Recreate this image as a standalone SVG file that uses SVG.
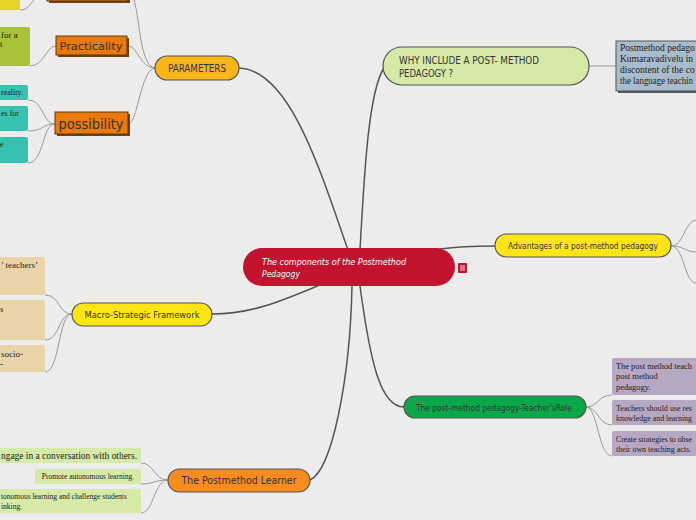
<svg xmlns="http://www.w3.org/2000/svg" width="696" height="520" viewBox="0 0 696 520">
<style>
.bg{fill:#ececec}
.c{fill:none;stroke:#555;stroke-width:1.5}
.s{fill:none;stroke:#9a9a9a;stroke-width:1}
.pill{stroke:#555;stroke-width:1.2}
.hand{font-family:"DejaVu Sans Condensed","DejaVu Sans",sans-serif;fill:#333}
.ser{font-family:"Liberation Serif",serif;fill:#222}
.shadow{fill:#6b4210}
.obox{fill:#e8790a;stroke:#5a3a10;stroke-width:1}
</style>
<rect class="bg" x="0" y="0" width="696" height="520"/>
<g id="connectors">
<path class="c" d="M239,68 C290,70 320,170 348,250"/>
<path class="c" d="M384,68 C368,92 364,180 360,250"/>
<path class="c" d="M440,249 C462,246 480,246 495,246"/>
<path class="c" d="M360,286 C370,360 380,407 404,407"/>
<path class="c" d="M352,286 C350,380 332,470 310,480"/>
<path class="c" d="M322,284 C280,302 250,314 212,314"/>
<path class="s" d="M155,68 C140,66 140,20 134,0"/>
<path class="s" d="M155,68 C140,68 138,46 128,46"/>
<path class="s" d="M155,68 C140,70 138,124 128,124"/>
<path class="s" d="M20,10 C28,10 30,4 34,0"/>
<path class="s" d="M56,46 C46,46 44,66 30,66"/>
<path class="s" d="M55,124 C42,124 44,100 28,100"/>
<path class="s" d="M55,124 C42,124 44,131 28,131"/>
<path class="s" d="M55,124 C42,124 44,163 28,163"/>
<path class="s" d="M589,66 L616,66"/>
<path class="s" d="M671,246 C684,246 684,222 696,220"/>
<path class="s" d="M671,246 C684,246 686,252 696,252"/>
<path class="s" d="M671,246 C684,246 684,282 696,283"/>
<path class="s" d="M586,407 C598,407 598,395 612,395"/>
<path class="s" d="M586,407 C598,407 598,425 612,425"/>
<path class="s" d="M586,407 C598,407 598,456 612,456"/>
<path class="s" d="M72,314 C58,314 60,295 45,295"/>
<path class="s" d="M72,314 C58,314 60,340 45,340"/>
<path class="s" d="M72,314 C58,314 60,372 45,372"/>
<path class="s" d="M168,480 C154,480 154,463 141,463"/>
<path class="s" d="M168,480 C154,480 154,484 141,484"/>
<path class="s" d="M168,480 C154,480 154,513 141,513"/>
</g>
<g id="top-cut">
<rect class="shadow" x="49" y="-10" width="81" height="13"/>
<rect class="obox" x="47" y="-12" width="80" height="13"/>
<rect x="-4" y="-10" width="24" height="20" rx="2" fill="#e6d42c"/>
</g>
<g id="parameters">
<rect class="pill" x="155" y="56" width="84" height="24" rx="12" fill="#fbb61b"/>
<text class="hand" x="197" y="72" font-size="10" text-anchor="middle" textLength="58" lengthAdjust="spacingAndGlyphs">PARAMETERS</text>
</g>
<g id="practicality">
<rect class="shadow" x="58" y="38" width="71" height="19"/>
<rect class="obox" x="56" y="36" width="71" height="19"/>
<text class="hand" x="91" y="50" font-size="11" text-anchor="middle" fill="#222" textLength="63" lengthAdjust="spacingAndGlyphs">Practicality</text>
</g>
<g id="practicality-note">
<rect x="-4" y="27" width="34" height="39" rx="2" fill="#a8c23a"/>
<text class="ser" x="1" y="38" font-size="9">for a</text>
<text class="ser" x="0" y="47" font-size="9">t</text>
</g>
<g id="possibility">
<rect class="shadow" x="57" y="114" width="73" height="22"/>
<rect class="obox" x="55" y="112" width="73" height="22"/>
<text class="hand" x="91" y="129" font-size="14" text-anchor="middle" fill="#111" textLength="65" lengthAdjust="spacingAndGlyphs">possibility</text>
</g>
<g id="poss-1">
<rect x="-4" y="85" width="32" height="15" rx="2" fill="#35c3b0"/>
<text class="ser" x="1" y="95" font-size="8">reality.</text>
</g>
<g id="poss-2">
<rect x="-4" y="106" width="32" height="25" rx="2" fill="#35c3b0"/>
<text class="ser" x="1" y="116" font-size="8">es for</text>
</g>
<g id="poss-3">
<rect x="-4" y="137" width="32" height="26" rx="2" fill="#35c3b0"/>
<text class="ser" x="0" y="147" font-size="8">e</text>
</g>
<g id="why">
<rect class="pill" x="383" y="47" width="206" height="38" rx="19" fill="#d6e8a6"/>
<text class="hand" x="399" y="64" font-size="10" textLength="140" lengthAdjust="spacingAndGlyphs">WHY INCLUDE A POST- METHOD</text>
<text class="hand" x="399" y="77" font-size="10" textLength="54" lengthAdjust="spacingAndGlyphs">PEDAGOGY ?</text>
</g>
<g id="why-note">
<rect x="618" y="43" width="82" height="50" fill="#555"/>
<rect x="616" y="41" width="82" height="50" fill="#a9bccb" stroke="#555" stroke-width="1"/>
<text class="ser" x="620" y="51" font-size="9.5">Postmethod pedago</text>
<text class="ser" x="620" y="62" font-size="9.5">Kumaravadivelu in</text>
<text class="ser" x="620" y="73" font-size="9.5">discontent of the co</text>
<text class="ser" x="620" y="84" font-size="9.5" textLength="73" lengthAdjust="spacingAndGlyphs">the language teachin</text>
</g>
<g id="center">
<rect x="243" y="248" width="212" height="38" rx="19" fill="#c4132f"/>
<text x="262" y="265" font-size="9" font-style="italic" fill="#fff" font-family="'DejaVu Sans Condensed','DejaVu Sans',sans-serif" textLength="144" lengthAdjust="spacingAndGlyphs">The components of the Postmethod</text>
<text x="262" y="277" font-size="9" font-style="italic" fill="#fff" font-family="'DejaVu Sans Condensed','DejaVu Sans',sans-serif" textLength="38" lengthAdjust="spacingAndGlyphs">Pedagogy</text>
<rect x="458" y="263" width="9" height="10" rx="1" fill="#c4132f"/>
<path d="M460,266 h5 M460,268 h5 M460,270 h5" stroke="#fff" stroke-width="0.8"/>
</g>
<g id="advantages">
<rect class="pill" x="495" y="234" width="176" height="23" rx="11.5" fill="#ffe516"/>
<text class="hand" x="583" y="249" font-size="9" text-anchor="middle" textLength="150" lengthAdjust="spacingAndGlyphs">Advantages of a post-method pedagogy</text>
</g>
<g id="teachers-role">
<rect class="pill" x="404" y="396" width="182" height="22" rx="11" fill="#0ba84a"/>
<text class="hand" x="494" y="411" font-size="9" text-anchor="middle" textLength="156" lengthAdjust="spacingAndGlyphs">The post-method pedagogy-Teacher'sRole</text>
</g>
<g id="role-1">
<rect x="612" y="358" width="90" height="37" rx="2" fill="#b6a7c3"/>
<text class="ser" x="616" y="369" font-size="8.5" textLength="76" lengthAdjust="spacingAndGlyphs">The post method teach</text>
<text class="ser" x="616" y="379" font-size="8.5">post method</text>
<text class="ser" x="616" y="390" font-size="8.5">pedagogy.</text>
</g>
<g id="role-2">
<rect x="612" y="400" width="90" height="25" rx="2" fill="#b6a7c3"/>
<text class="ser" x="616" y="411" font-size="8.5" textLength="76" lengthAdjust="spacingAndGlyphs">Teachers should use res</text>
<text class="ser" x="616" y="421" font-size="8.5" textLength="76" lengthAdjust="spacingAndGlyphs">knowledge and learning</text>
</g>
<g id="role-3">
<rect x="612" y="431" width="90" height="25" rx="2" fill="#b6a7c3"/>
<text class="ser" x="616" y="442" font-size="8.5" textLength="76" lengthAdjust="spacingAndGlyphs">Create strategies to obse</text>
<text class="ser" x="616" y="452" font-size="8.5" textLength="75" lengthAdjust="spacingAndGlyphs">their own teaching acts.</text>
</g>
<g id="macro">
<rect class="pill" x="72" y="303" width="140" height="23" rx="11.5" fill="#ffe516"/>
<text class="hand" x="142" y="318" font-size="9" text-anchor="middle" textLength="115" lengthAdjust="spacingAndGlyphs">Macro-Strategic Framework</text>
</g>
<g id="macro-1">
<rect x="-4" y="257" width="49" height="38" rx="2" fill="#e9d4a8"/>
<text class="ser" x="1" y="268" font-size="9">’ teachers’</text>
</g>
<g id="macro-2">
<rect x="-4" y="300" width="49" height="40" rx="2" fill="#e9d4a8"/>
<text class="ser" x="0" y="312" font-size="9">s</text>
</g>
<g id="macro-3">
<rect x="-4" y="345" width="49" height="27" rx="2" fill="#e9d4a8"/>
<text class="ser" x="1" y="357" font-size="9">socio-</text>
<text class="ser" x="0" y="367" font-size="9">-</text>
</g>
<g id="learner">
<rect class="pill" x="168" y="469" width="142" height="23" rx="11.5" fill="#f68b1f"/>
<text class="hand" x="239" y="484" font-size="10" text-anchor="middle" textLength="115" lengthAdjust="spacingAndGlyphs">The Postmethod Learner</text>
</g>
<g id="learner-1">
<rect x="-4" y="448" width="145" height="15" rx="2" fill="#d5eaa7"/>
<text class="ser" x="1" y="459" font-size="9.5" textLength="136" lengthAdjust="spacingAndGlyphs">ngage in a conversation with others.</text>
</g>
<g id="learner-2">
<rect x="35" y="469" width="106" height="15" rx="2" fill="#d5eaa7"/>
<text class="ser" x="88" y="479" font-size="7.5" text-anchor="middle">Promote autonomous learning.</text>
</g>
<g id="learner-3">
<rect x="-4" y="489" width="145" height="24" rx="2" fill="#d5eaa7"/>
<text class="ser" x="1" y="499" font-size="7.5">tonomous learning and challenge students</text>
<text class="ser" x="1" y="509" font-size="7.5">inking.</text>
</g>
</svg>
